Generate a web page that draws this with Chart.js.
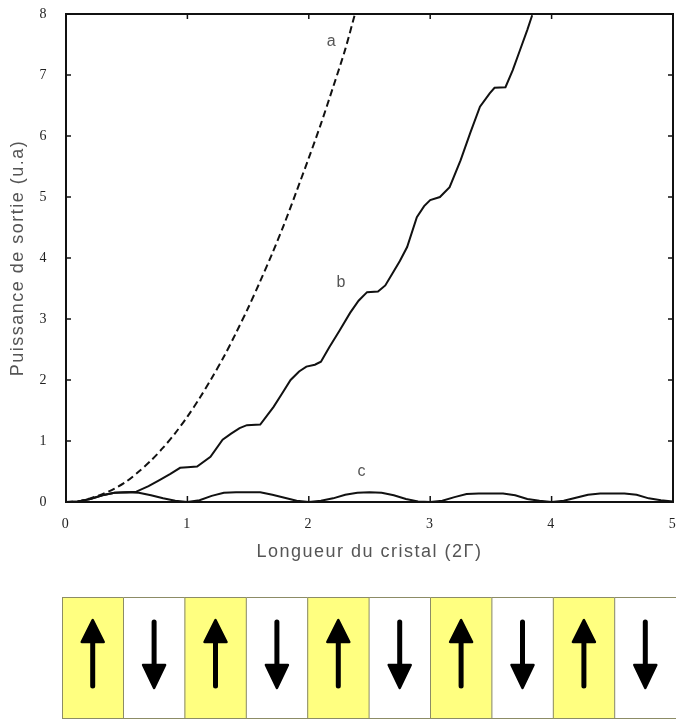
<!DOCTYPE html>
<html>
<head>
<meta charset="utf-8">
<script src="https://cdn.jsdelivr.net/npm/chart.js@4.4.1/dist/chart.umd.min.js"></script>
<style>
  html, body { margin: 0; padding: 0; background: #fff; }
  canvas { display: block; }
</style>
</head>
<body>
<canvas id="qpmChart" width="676" height="719"></canvas>
<script>
// curve a : accord de phase parfait (dashed)
const lengthA = [0, 0.1, 0.2, 0.3, 0.4, 0.5, 0.6, 0.7, 0.8, 0.9, 1.0, 1.1, 1.2, 1.3, 1.4, 1.5, 1.6, 1.7, 1.8, 1.9, 2.0, 2.1, 2.2, 2.3, 2.38];
const powerA  = [0, 0.01, 0.06, 0.13, 0.22, 0.34, 0.5, 0.68, 0.89, 1.13, 1.4, 1.7, 2.03, 2.38, 2.77, 3.18, 3.62, 4.08, 4.57, 5.1, 5.64, 6.2, 6.8, 7.42, 8.0];

// curve b : quasi-accord de phase
const lengthB = [0, 0.1, 0.2, 0.3, 0.4, 0.5, 0.58, 0.68, 0.77, 0.86, 0.94, 1.0, 1.08, 1.19, 1.29, 1.36, 1.43, 1.49, 1.6, 1.71, 1.78, 1.85, 1.92, 1.98, 2.05, 2.1, 2.17, 2.25, 2.34, 2.41, 2.48, 2.57, 2.63, 2.69, 2.75, 2.81, 2.89, 2.95, 3.0, 3.08, 3.16, 3.25, 3.33, 3.41, 3.49, 3.53, 3.62, 3.68, 3.74, 3.8, 3.84];
const powerB  = [0, 0.01, 0.05, 0.11, 0.15, 0.16, 0.17, 0.26, 0.36, 0.46, 0.56, 0.57, 0.58, 0.74, 1.02, 1.12, 1.21, 1.26, 1.27, 1.56, 1.78, 2.0, 2.14, 2.22, 2.25, 2.3, 2.54, 2.8, 3.1, 3.3, 3.44, 3.45, 3.55, 3.75, 3.95, 4.18, 4.67, 4.85, 4.95, 5.0, 5.16, 5.6, 6.05, 6.48, 6.7, 6.79, 6.8, 7.08, 7.41, 7.74, 7.98];

// curve c : sans accord de phase
const lengthC = [0, 0.1, 0.2, 0.3, 0.4, 0.5, 0.6, 0.7, 0.8, 0.9, 1.0, 1.1, 1.2, 1.3, 1.4, 1.5, 1.6, 1.7, 1.8, 1.9, 2.0, 2.1, 2.2, 2.3, 2.4, 2.5, 2.6, 2.7, 2.8, 2.9, 3.0, 3.1, 3.2, 3.3, 3.4, 3.5, 3.6, 3.7, 3.8, 3.9, 4.0, 4.1, 4.2, 4.3, 4.4, 4.5, 4.6, 4.7, 4.8, 4.9, 5.0];
const powerC  = [0, 0.01, 0.05, 0.11, 0.15, 0.16, 0.15, 0.11, 0.06, 0.02, 0, 0.03, 0.1, 0.15, 0.16, 0.16, 0.16, 0.12, 0.07, 0.02, 0, 0.02, 0.06, 0.12, 0.15, 0.16, 0.15, 0.11, 0.05, 0.01, 0, 0.02, 0.08, 0.13, 0.14, 0.14, 0.14, 0.11, 0.05, 0.02, 0, 0.02, 0.07, 0.12, 0.14, 0.14, 0.14, 0.12, 0.06, 0.03, 0.01];

const xTicks = [0, 1, 2, 3, 4, 5];
const yTicks = [0, 1, 2, 3, 4, 5, 6, 7, 8];

const curveLabels = ['a', 'b', 'c'];
const labelX = [2.19, 2.27, 2.44];
const labelY = [7.55, 3.6, 0.5];

// domaines du cristal (1 = vers le haut, -1 = vers le bas)
const poling = [1, -1, 1, -1, 1, -1, 1, -1, 1, -1];

const toXY = (xs, ys) => xs.map((v, i) => ({ x: v, y: ys[i] }));

// the scanned labels are set wide
const spacingPlugin = {
  id: 'spacing',
  beforeDraw(chart) { chart.ctx.letterSpacing = '1.5px'; }
};

const framePlugin = {
  id: 'frame',
  afterDatasetsDraw(chart) {
    const { ctx, chartArea: a, scales: { x, y } } = chart;
    ctx.save();
    ctx.strokeStyle = '#111';
    ctx.lineWidth = 2;
    ctx.strokeRect(a.left, a.top, a.right - a.left, a.bottom - a.top);
    ctx.lineWidth = 1.5;
    ctx.beginPath();
    xTicks.forEach(v => {
      const px = x.getPixelForValue(v);
      ctx.moveTo(px, a.bottom); ctx.lineTo(px, a.bottom - 6);
      ctx.moveTo(px, a.top); ctx.lineTo(px, a.top + 5);
    });
    yTicks.forEach(v => {
      const py = y.getPixelForValue(v);
      ctx.moveTo(a.left, py); ctx.lineTo(a.left + 5, py);
      ctx.moveTo(a.right, py); ctx.lineTo(a.right - 5, py);
    });
    ctx.stroke();

    ctx.font = '16px "Liberation Sans", Arial, sans-serif';
    ctx.fillStyle = '#555';
    ctx.textAlign = 'center';
    ctx.textBaseline = 'middle';
    curveLabels.forEach((t, i) => {
      ctx.fillText(t, x.getPixelForValue(labelX[i]), y.getPixelForValue(labelY[i]));
    });
    ctx.restore();
  }
};

const domainPlugin = {
  id: 'domains',
  afterDraw(chart) {
    const ctx = chart.ctx;
    const left = 62, top = 597, bottom = 718;
    const w = (chart.width - left) / poling.length;
    ctx.save();
    poling.forEach((d, i) => {
      const x0 = left + i * w;
      ctx.fillStyle = d > 0 ? '#ffff80' : '#ffffff';
      ctx.fillRect(x0, top, w, bottom - top);
      ctx.strokeStyle = '#8c8c66';
      ctx.lineWidth = 1;
      ctx.strokeRect(x0 + 0.5, top + 0.5, w, bottom - top);

      const cx = x0 + w / 2;
      ctx.strokeStyle = '#000';
      ctx.fillStyle = '#000';
      ctx.lineWidth = 5;
      ctx.lineCap = 'round';
      ctx.lineJoin = 'round';
      ctx.beginPath();
      if (d > 0) {
        ctx.moveTo(cx, 686); ctx.lineTo(cx, 638);
        ctx.stroke();
        ctx.beginPath();
        ctx.moveTo(cx, 620); ctx.lineTo(cx - 11, 642); ctx.lineTo(cx + 11, 642); ctx.closePath();
      } else {
        ctx.moveTo(cx, 622); ctx.lineTo(cx, 668);
        ctx.stroke();
        ctx.beginPath();
        ctx.moveTo(cx, 688); ctx.lineTo(cx - 11, 665); ctx.lineTo(cx + 11, 665); ctx.closePath();
      }
      ctx.lineWidth = 2.5;
      ctx.fill();
      ctx.stroke();
    });
    ctx.restore();
  }
};

const data = {
  datasets: [
    {
      label: 'a',
      data: toXY(lengthA, powerA),
      borderColor: '#111',
      borderWidth: 2,
      borderDash: [7, 4],
      pointRadius: 0,
      tension: 0.3
    },
    {
      label: 'b',
      data: toXY(lengthB, powerB),
      borderColor: '#111',
      borderWidth: 2,
      pointRadius: 0,
      tension: 0
    },
    {
      label: 'c',
      data: toXY(lengthC, powerC),
      borderColor: '#111',
      borderWidth: 2,
      pointRadius: 0,
      tension: 0
    }
  ]
};

const config = {
  type: 'line',
  data: data,
  options: {
    responsive: false,
    animation: false,
    devicePixelRatio: 1,
    layout: { padding: { top: 14, right: 3, bottom: 156, left: 0 } },
    plugins: { legend: { display: false }, tooltip: { enabled: false } },
    scales: {
      x: {
        type: 'linear',
        min: 0,
        max: 5,
        grid: { display: false },
        border: { display: false },
        ticks: {
          stepSize: 1,
          padding: 6,
          color: '#222',
          font: { family: '"Liberation Serif", "Times New Roman", serif', size: 14 }
        },
        title: {
          display: true,
          text: 'Longueur du cristal (2Γ)',
          color: '#555',
          padding: { top: 0, bottom: 0 },
          font: { family: '"Liberation Sans", Arial, sans-serif', size: 18 }
        },
        afterFit(scale) {
          scale.height = 61;
          scale.paddingLeft = 0;
          scale.paddingRight = 0;
        }
      },
      y: {
        type: 'linear',
        min: 0,
        max: 8,
        grid: { display: false },
        border: { display: false },
        ticks: {
          stepSize: 1,
          padding: 10,
          color: '#222',
          font: { family: '"Liberation Serif", "Times New Roman", serif', size: 14 }
        },
        title: {
          display: true,
          text: 'Puissance de sortie (u.a)',
          color: '#555',
          padding: { top: 7, bottom: 0 },
          font: { family: '"Liberation Sans", Arial, sans-serif', size: 18 }
        },
        afterFit(scale) {
          scale.width = 66;
          scale.paddingTop = 0;
          scale.paddingBottom = 0;
        }
      }
    }
  },
  plugins: [spacingPlugin, framePlugin, domainPlugin]
};

const ctx = document.getElementById('qpmChart');
const qpmChart = new Chart(ctx, config);
</script>
</body>
</html>
